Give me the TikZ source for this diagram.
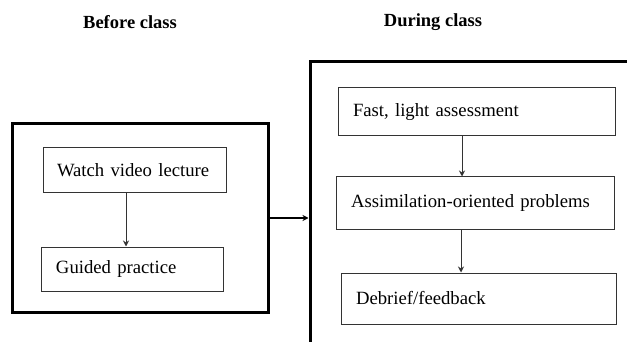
\documentclass[tikz,border=0pt]{standalone}
\usepackage{fontspec}
\setmainfont{Liberation Serif}
\usetikzlibrary{positioning, calc, arrows.meta}

\tikzset{
  phase/.style={draw, line width=3pt, minimum width=#1, inner sep=0pt},
  stepbox/.style={draw=black!80, line width=1pt, minimum height=#1,
    font=\fontsize{18.7}{21}\selectfont, anchor=center, align=left,
    inner xsep=15pt, inner ysep=0pt},
  title/.style={font=\bfseries\fontsize{18.5}{20}\selectfont},
  flow/.style={draw=black!80, line width=1pt, -{Stealth[length=6pt, width=6pt]}}
}

\begin{document}
\begin{tikzpicture}[x=1pt, y=-1pt]
    \useasboundingbox (0,0) rectangle (627,342);

    % phase titles
    \node[title] (beforetitle) at (130,22) {Before class};
    \node[title] (duringtitle) at (433,22) {During class};

    % the two phases
    \node[phase=256pt, minimum height=188pt] (before) at (140,218) {};
    \node[phase=360pt, minimum height=320pt] (during) at (490,222) {};

    % before class
    \node[stepbox=45pt, text width=155pt, inner xsep=14pt] (watch) at (134.5,170.5) {Watch video lecture};
    \node[stepbox=44pt, text width=152pt] (guided) at (132,269) {Guided practice};

    % during class
    \node[stepbox=48pt, text width=247pt] (fast) at (476.5,112) {Fast, light assessment};
    \node[stepbox=52pt, text width=248pt] (assim) at (475,203) {Assimilation-oriented problems};
    \node[stepbox=51pt, text width=245pt] (debrief) at (478.5,298.5) {Debrief/feedback};

    \draw[flow] ([xshift=-8.5pt]watch.south) -- ([xshift=-6pt]guided.north);
    \draw[flow] ([xshift=-14.5pt]fast.south) -- ([xshift=-13pt]assim.north);
    \draw[flow] ([xshift=-14pt]assim.south) -- ([xshift=-17.5pt]debrief.north);

    \draw[flow, draw=black, line width=1.5pt] (before.east) -- (before.east -| during.west);
\end{tikzpicture}
\end{document}
